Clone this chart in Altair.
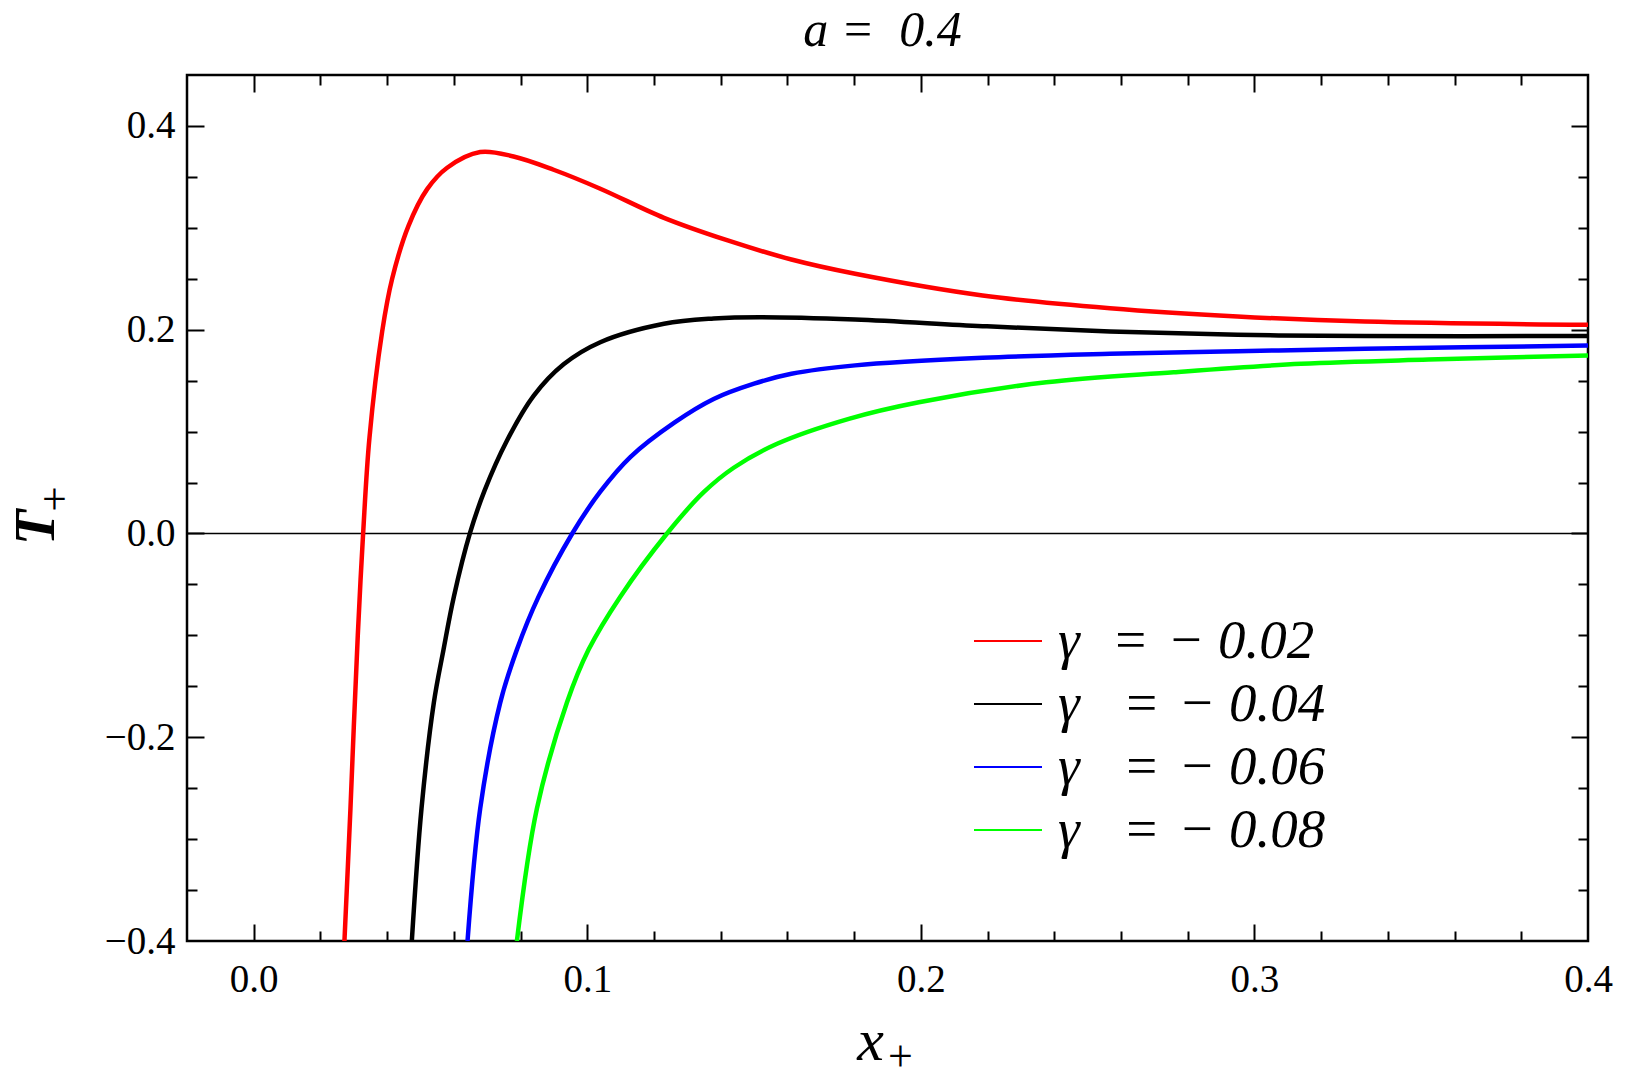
import altair as alt
import pandas as pd

# ---- data ----
series_labels = ["γ\u2002\u200a=\u2004−\u20050.02",
                 "γ\u2002\u2009\u200a=\u2004−\u20050.04",
                 "γ\u2002\u2009\u200a=\u2004−\u20050.06",
                 "γ\u2002\u2009\u200a=\u2004−\u20050.08"]
series_colors = ["#ff0000", "#000000", "#0000ff", "#00ff00"]

red_x = [0.0272, 0.0290, 0.0300, 0.0312, 0.0328, 0.0347, 0.0385, 0.0415, 0.0464, 0.0520,
         0.0580, 0.0679, 0.0779, 0.0899, 0.1039, 0.1230, 0.1421, 0.1612, 0.1803, 0.2185,
         0.2567, 0.2949, 0.3331, 0.4000]
red_y = [-0.400, -0.270, -0.190, -0.100, 0.000, 0.094, 0.198, 0.250, 0.302, 0.338,
         0.359, 0.3744, 0.3700, 0.3570, 0.3384, 0.3098, 0.2876, 0.2689, 0.2549, 0.2336,
         0.2211, 0.2130, 0.2080, 0.2048]

black_x = [0.0474, 0.0503, 0.0540, 0.0569, 0.0600, 0.0648, 0.0692, 0.0759, 0.0839, 0.0929,
           0.1039, 0.1230, 0.1379, 0.1517, 0.1803, 0.2185, 0.2567, 0.2949, 0.3331, 0.4000]
black_y = [-0.400, -0.270, -0.166, -0.114, -0.062, 0.000, 0.042, 0.091, 0.135, 0.166,
           0.1877, 0.2058, 0.2110, 0.2123, 0.2100, 0.2035, 0.1982, 0.1950, 0.1938, 0.1938]

blue_x = [0.0641, 0.0679, 0.0739, 0.0789, 0.0854, 0.0955, 0.1039, 0.1129, 0.1262, 0.1379,
          0.1500, 0.1612, 0.1803, 0.2185, 0.2567, 0.2949, 0.3331, 0.4000]
blue_y = [-0.400, -0.270, -0.166, -0.114, -0.062, 0.000, 0.041, 0.075, 0.109, 0.132,
          0.147, 0.1567, 0.1650, 0.1724, 0.1763, 0.1789, 0.1812, 0.1845]

green_x = [0.0789, 0.0849, 0.0939, 0.1004, 0.1099, 0.1239, 0.1349, 0.1439, 0.1569, 0.1784,
           0.1994, 0.2376, 0.2758, 0.3140, 0.3522, 0.4000]
green_y = [-0.400, -0.270, -0.166, -0.114, -0.062, 0.000, 0.0405, 0.0645, 0.0880, 0.1125,
           0.1288, 0.1484, 0.1583, 0.1665, 0.1707, 0.1747]

x_label_values = [0.0, 0.1, 0.2, 0.3, 0.4]
y_label_values = [-0.4, -0.2, 0.0, 0.2, 0.4]
x_tick_values = [0.0, 0.02, 0.04, 0.06, 0.08, 0.1, 0.12, 0.14, 0.16, 0.18, 0.2,
                 0.22, 0.24, 0.26, 0.28, 0.3, 0.32, 0.34, 0.36, 0.38]
y_tick_values = [-0.35, -0.3, -0.25, -0.2, -0.15, -0.1, -0.05, 0.0, 0.05, 0.1,
                 0.15, 0.2, 0.25, 0.3, 0.35, 0.4]
zero_x = [-0.02, 0.4]
zero_y = [0.0, 0.0]

title_text = "a =\u00a0\u00a00.4"
x_title, y_title, sub_text = "x", "T", "+"

# ---- build table ----
rows = []
for lab, xs, ys in zip(series_labels, [red_x, black_x, blue_x, green_x],
                       [red_y, black_y, blue_y, green_y]):
    for i, (xv, yv) in enumerate(zip(xs, ys)):
        rows.append({"series": lab, "x": xv, "y": yv, "order": i})
df = pd.DataFrame(rows)
zero_df = pd.DataFrame({"x": zero_x, "y": zero_y})

W, H = 1401, 866
FONT = "Liberation Serif"

xscale = alt.Scale(domain=[-0.02, 0.4], nice=False, zero=False)
yscale = alt.Scale(domain=[-0.4, 0.45], nice=False, zero=False)

x_major = "abs(datum.value*10 - round(datum.value*10)) < 0.001"
y_major = "abs(datum.value*5 - round(datum.value*5)) < 0.001"


def tick_axis(orient, values, offset, test, **extra):
    kw = dict(orient=orient, values=values, offset=offset, labels=False,
              domain=False, grid=False, ticks=True,
              tickColor="black", tickWidth=2,
              tickSize={"condition": {"test": test, "value": 17}, "value": 10})
    kw.update(extra)
    if "title" not in kw:
        kw["title"] = None
    return alt.Axis(**kw)


lines = alt.Chart(df).mark_line(strokeWidth=4.5, clip=True, interpolate="catmull-rom").encode(
    x=alt.X("x:Q", scale=xscale,
            axis=alt.Axis(orient="bottom", values=x_label_values, format=".1f",
                          labelFont=FONT, labelFontSize=39, labelColor="black",
                          labelFlush=False, labelOverlap=False, labelPadding=19,
                          ticks=False, tickSize=0, domain=False, grid=False,
                          title=x_title, titleFont=FONT, titleFontSize=60,
                          titleFontStyle="italic", titleFontWeight="normal",
                          titleColor="black", titleBaseline="alphabetic",
                          titleAlign="center", titleX=683, titleY=118)),
    y=alt.Y("y:Q", scale=yscale,
            axis=alt.Axis(orient="left", values=y_label_values, format=".1f",
                          labelFont=FONT, labelFontSize=39, labelColor="black",
                          labelFlush=False, labelOverlap=False, labelPadding=12,
                          ticks=False, tickSize=0, domain=False, grid=False,
                          title=y_title, titleFont=FONT, titleFontSize=58,
                          titleFontStyle="italic", titleFontWeight="bold",
                          titleColor="black", titleAngle=270, titleAlign="center",
                          titleBaseline="alphabetic", titleX=-134, titleY=452)),
    color=alt.Color("series:N",
                    scale=alt.Scale(domain=series_labels, range=series_colors),
                    legend=alt.Legend(orient="none", legendX=786, legendY=531,
                                      title=None, symbolType="stroke", symbolSize=4624,
                                      symbolStrokeWidth=2, labelFont=FONT,
                                      labelFontSize=55, labelFontStyle="italic",
                                      labelColor="black", rowPadding=-8, labelOffset=15,
                                      padding=0, labelLimit=0)),
    order="order:Q",
)

sub_style = dict(titleFont=FONT, titleFontSize=44, titleFontStyle="normal",
                 titleFontWeight="normal", titleColor="black", titleAngle=0,
                 titleAlign="center", titleBaseline="middle")

zero_line = alt.Chart(zero_df).mark_line(color="black", strokeWidth=1.4).encode(
    x=alt.X("x:Q", scale=xscale,
            axis=tick_axis("top", x_tick_values, -H, x_major, title=sub_text,
                           titleX=713, titleY=116, **sub_style)),
    y=alt.Y("y:Q", scale=yscale,
            axis=tick_axis("right", y_tick_values, -W, y_major, title=sub_text,
                           titleX=-133, titleY=425, **sub_style)),
)

ghost = alt.Chart(zero_df).mark_point(opacity=0).encode(
    x=alt.X("x:Q", scale=xscale,
            axis=tick_axis("bottom", x_tick_values, -H, x_major,
                           title=title_text, titleFont=FONT, titleFontSize=50,
                           titleFontStyle="italic", titleFontWeight="normal",
                           titleColor="black", titleBaseline="alphabetic",
                           titleAlign="center", titleX=695, titleY=-30)),
    y=alt.Y("y:Q", scale=yscale, axis=tick_axis("left", y_tick_values, -W, y_major)),
)

chart = alt.layer(zero_line, lines, ghost).resolve_axis(
    x="independent", y="independent"
).properties(
    width=W, height=H,
    autosize=alt.AutoSizeParams(type="none"),
    padding={"left": 179, "top": 67, "right": 56, "bottom": 133},
    background="white",
).configure_view(stroke="black", strokeWidth=2.5)

chart.save("out.html", embed_options={"renderer": "svg", "actions": False})
